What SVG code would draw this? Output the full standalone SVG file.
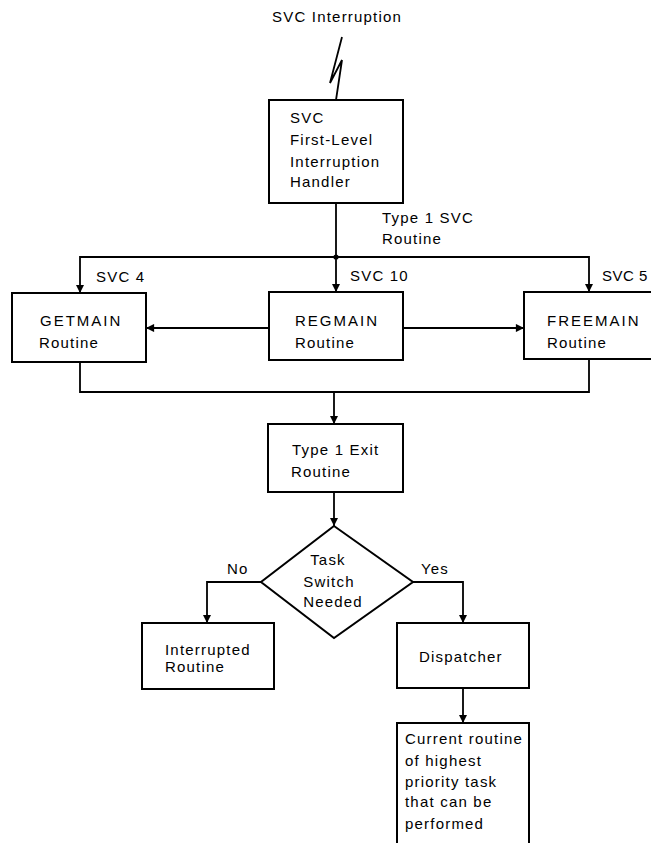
<svg xmlns="http://www.w3.org/2000/svg" width="651" height="843" viewBox="0 0 651 843">
<style>
  rect.box, polygon.box { fill: #fff; stroke: #000; stroke-width: 2; }
  .conn path, .conn line { fill: none; stroke: #000; stroke-width: 1.8; }
  text { font-family: "Liberation Sans", Arial, sans-serif; font-size: 15px; letter-spacing: 1.2px; fill: #000; }
  text.caps { letter-spacing: 2px; }
</style>
<defs>
  <marker id="arr" viewBox="0 0 10 10" refX="10" refY="5" markerWidth="5.5" markerHeight="4.5" orient="auto" markerUnits="strokeWidth">
    <path d="M0,0 L10,5 L0,10 z" fill="#000"/>
  </marker>
</defs>
<rect width="651" height="843" fill="#fff"/>

<g id="title">
  <text x="272" y="22">SVC Interruption</text>
</g>

<g id="flih">
  <rect class="box" x="269" y="100" width="134" height="103"/>
  <text x="290" y="123">SVC</text>
  <text x="290" y="145">First-Level</text>
  <text x="290" y="167">Interruption</text>
  <text x="290" y="187">Handler</text>
</g>

<g id="getmain">
  <rect class="box" x="12" y="293" width="134" height="69"/>
  <text class="caps" x="40" y="326">GETMAIN</text>
  <text x="39" y="348">Routine</text>
</g>

<g id="regmain">
  <rect class="box" x="269" y="292" width="134" height="68"/>
  <text class="caps" x="295" y="326">REGMAIN</text>
  <text x="295" y="348">Routine</text>
</g>

<g id="freemain">
  <rect class="box" x="524" y="292" width="140" height="67"/>
  <text class="caps" x="547" y="326">FREEMAIN</text>
  <text x="547" y="348">Routine</text>
</g>

<g id="exit">
  <rect class="box" x="268" y="424" width="135" height="68"/>
  <text x="292" y="455">Type 1 Exit</text>
  <text x="291" y="477">Routine</text>
</g>

<g id="decision">
  <polygon class="box" points="334,526 413,582 334,638 261,582"/>
  <text x="328" y="565" text-anchor="middle">Task</text>
  <text x="329" y="587" text-anchor="middle">Switch</text>
  <text x="333" y="607" text-anchor="middle">Needed</text>
</g>

<g id="interrupted">
  <rect class="box" x="142" y="623" width="132" height="66"/>
  <text x="165" y="655">Interrupted</text>
  <text x="165" y="672">Routine</text>
</g>

<g id="dispatcher">
  <rect class="box" x="397" y="623" width="132" height="65"/>
  <text x="419" y="662">Dispatcher</text>
</g>

<g id="current">
  <rect class="box" x="397" y="723" width="132" height="140"/>
  <text x="405" y="744">Current routine</text>
  <text x="405" y="766">of highest</text>
  <text x="405" y="787">priority task</text>
  <text x="405" y="807">that can be</text>
  <text x="405" y="829">performed</text>
</g>

<g id="connectors" class="conn">
  <path d="M342,37 L330,83 L342,60 L336,100"/>
  <line x1="336" y1="203" x2="336" y2="257"/>
  <circle cx="336" cy="257" r="2.6" fill="#000"/>
  <path d="M336,257 L80,257 L80,293" marker-end="url(#arr)"/>
  <line x1="336" y1="257" x2="336" y2="292" marker-end="url(#arr)"/>
  <path d="M336,257 L589,257 L589,292" marker-end="url(#arr)"/>
  <line x1="269" y1="328" x2="146" y2="328" marker-end="url(#arr)"/>
  <line x1="403" y1="328" x2="524" y2="328" marker-end="url(#arr)"/>
  <path d="M80,362 L80,392 L589,392 L589,359"/>
  <line x1="334" y1="392" x2="334" y2="424" marker-end="url(#arr)"/>
  <line x1="334" y1="492" x2="334" y2="526" marker-end="url(#arr)"/>
  <path d="M261,582 L207,582 L207,623" marker-end="url(#arr)"/>
  <path d="M413,582 L463,582 L463,623" marker-end="url(#arr)"/>
  <line x1="463" y1="688" x2="463" y2="723" marker-end="url(#arr)"/>
</g>

<g id="labels">
  <text x="382" y="223">Type 1 SVC</text>
  <text x="382" y="244">Routine</text>
  <text x="96" y="282">SVC 4</text>
  <text x="350" y="281">SVC 10</text>
  <text x="602" y="281" style="letter-spacing:0.5px">SVC 5</text>
  <text x="227" y="574">No</text>
  <text x="421" y="574">Yes</text>
</g>
</svg>
